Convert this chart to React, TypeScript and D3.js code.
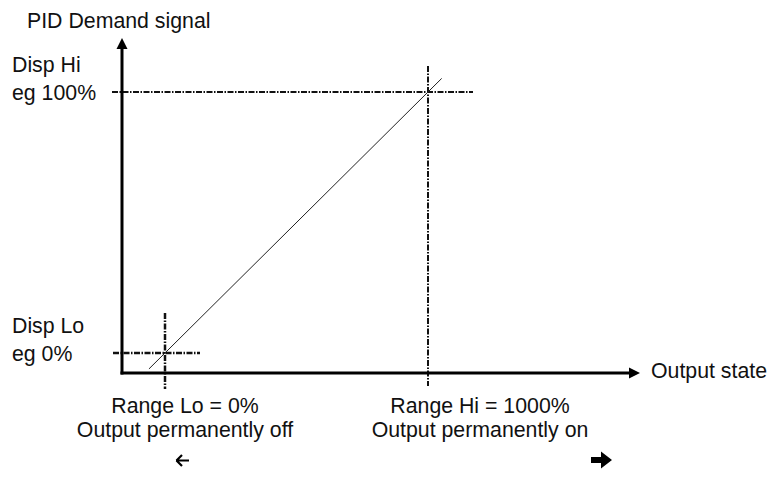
import React from "react";
import * as d3 from "d3";

// Schematic values (data units)
const rangeValues = [0, 1000]; // Range Lo, Range Hi (output %)
const dispValues = [0, 100]; // Disp Lo, Disp Hi (demand %)
const demandLine = [
  { x: -61, y: -6.1 },
  { x: 1052, y: 105.2 },
];
const axisExtentX = [-163.5, 1806];
const axisExtentY = [-7.7, 120.7];
const yLabels = [
  { v: 100, lines: ["Disp Hi", "eg 100%"] },
  { v: 0, lines: ["Disp Lo", "eg 0%"] },
];
const xLabels = [
  { v: 0, lines: ["Range Lo = 0%", "Output permanently off"] },
  { v: 1000, lines: ["Range Hi = 1000%", "Output permanently on"] },
];

const W = 769;
const H = 477;
const FONT = "'Liberation Sans', Arial, sans-serif";
const FS = 21.3;

export default function App() {
  const x = d3.scaleLinear().domain([0, 1000]).range([165, 428]);
  const y = d3.scaleLinear().domain([0, 100]).range([353, 92]);
  const line = d3
    .line<{ x: number; y: number }>()
    .x((d) => x(d.x))
    .y((d) => y(d.y));

  const ox = x(axisExtentX[0]);
  const oy = y(axisExtentY[0]);
  const xEnd = x(axisExtentX[1]);
  const yTop = y(axisExtentY[1]);
  const dash = "6 1.5 1.5 1.5";
  const xCenters = [185, 480];

  return (
    <svg
      width={W}
      height={H}
      style={{ position: "absolute", left: 0, top: 0, background: "#fff" }}
      fontFamily={FONT}
    >
      <rect width={W} height={H} fill="#fff" />
      {/* guide lines */}
      <line x1={112} x2={473} y1={y(dispValues[1])} y2={y(dispValues[1])} stroke="#111" strokeWidth={2} strokeDasharray={dash} />
      <line x1={x(rangeValues[1])} x2={x(rangeValues[1])} y1={66} y2={386} stroke="#111" strokeWidth={2} strokeDasharray={dash} />
      <line x1={113} x2={200} y1={y(dispValues[0])} y2={y(dispValues[0])} stroke="#111" strokeWidth={2.5} strokeDasharray={dash} />
      <line x1={x(rangeValues[0])} x2={x(rangeValues[0])} y1={313} y2={389} stroke="#111" strokeWidth={2.5} strokeDasharray={dash} />
      {/* demand line */}
      <path d={line(demandLine) || ""} stroke="#222" strokeWidth={1} fill="none" />
      {/* axes */}
      <line x1={ox} x2={ox} y1={oy + 1.5} y2={yTop + 9} stroke="#000" strokeWidth={3} />
      <path d={`M${ox},${yTop} L${ox - 5.5},${yTop + 11} L${ox + 5.5},${yTop + 11} Z`} fill="#000" />
      <line x1={ox - 1.5} x2={xEnd - 10} y1={oy} y2={oy} stroke="#000" strokeWidth={3} />
      <path d={`M${xEnd},${oy} L${xEnd - 11},${oy - 5.5} L${xEnd - 11},${oy + 5.5} Z`} fill="#000" />
      {/* labels */}
      <text x={27} y={27.5} fontSize={FS} fill="#111">PID Demand signal</text>
      <text x={651} y={378} fontSize={FS} fill="#111">Output state</text>
      {yLabels.map((l) => (
        <text key={l.v} x={12} y={y(l.v) - 20.5} fontSize={FS} fill="#111">
          {l.lines.map((s, i) => (
            <tspan key={i} x={12} dy={i === 0 ? 0 : 28}>{s}</tspan>
          ))}
        </text>
      ))}
      {xLabels.map((l, k) => (
        <text key={l.v} x={xCenters[k]} y={413} fontSize={FS} fill="#111" textAnchor="middle">
          {l.lines.map((s, i) => (
            <tspan key={i} x={xCenters[k]} dy={i === 0 ? 0 : 24}>{s}</tspan>
          ))}
        </text>
      ))}
      {/* direction arrows */}
      <path d="M176,460.5 L189,460.5 M176.5,460.5 L182,455 M176.5,460.5 L182,466" stroke="#000" strokeWidth={2.2} fill="none" />
      <path d="M591,457 L601,457 L601,451.5 L612,460 L601,468.5 L601,463 L591,463 Z" fill="#000" />
    </svg>
  );
}
